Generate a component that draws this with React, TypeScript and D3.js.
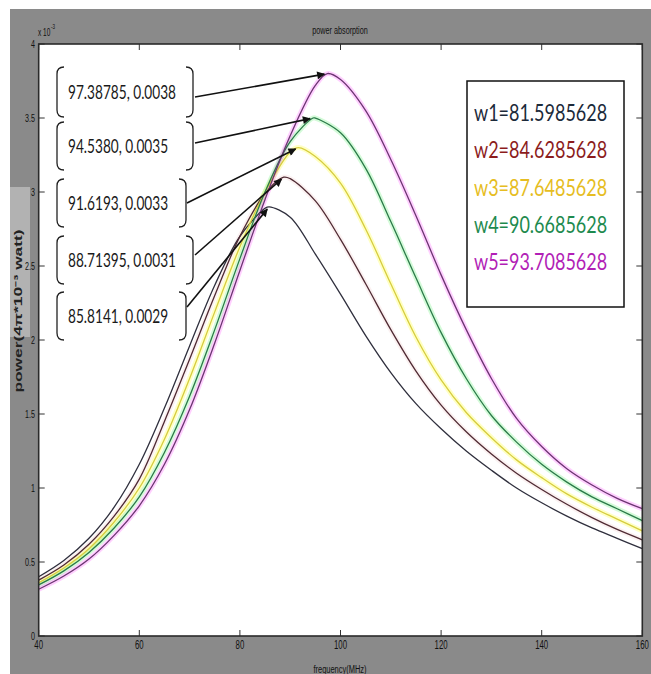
import React from "react";
import * as d3 from "d3";

// Frequency samples (MHz)
const frequencies = [
  40, 45, 50, 55, 60, 65, 70, 75, 80, 85, 90, 95, 100, 105, 110, 115, 120, 125,
  130, 135, 140, 145, 150, 155, 160,
];

// Absorbed power for each drive frequency, in units of 1e-3
const w1Power = [
  0.4, 0.51, 0.66, 0.87, 1.16, 1.54, 1.96, 2.37, 2.7, 2.89, 2.83, 2.58, 2.31,
  2.03, 1.78, 1.57, 1.4, 1.25, 1.12, 1.0, 0.9, 0.81, 0.73, 0.66, 0.59,
];
const w2Power = [
  0.378, 0.48, 0.62, 0.81, 1.06, 1.45, 1.87, 2.3, 2.7, 2.99, 3.09, 2.94, 2.68,
  2.38, 2.07, 1.79, 1.56, 1.38, 1.23, 1.1, 0.99, 0.89, 0.8, 0.72, 0.65,
];
const w3Power = [
  0.36, 0.46, 0.59, 0.77, 1.0, 1.33, 1.74, 2.19, 2.63, 3.0, 3.27, 3.24, 3.06,
  2.75, 2.38, 2.02, 1.73, 1.51, 1.34, 1.19, 1.07, 0.96, 0.87, 0.79, 0.71,
];
const w4Power = [
  0.345, 0.44, 0.565, 0.73, 0.94, 1.24, 1.62, 2.07, 2.55, 3.0, 3.34, 3.499,
  3.4, 3.16, 2.8, 2.42, 2.05, 1.74, 1.49, 1.31, 1.16, 1.04, 0.94, 0.86, 0.78,
];
const w5Power = [
  0.316, 0.405, 0.52, 0.68, 0.88, 1.16, 1.53, 1.98, 2.47, 2.95, 3.38, 3.72,
  3.76, 3.55, 3.22, 2.84, 2.44, 2.07, 1.74, 1.47, 1.28, 1.13, 1.02, 0.93, 0.86,
];

const seriesNames = [
  "w1=81.5985628",
  "w2=84.6285628",
  "w3=87.6485628",
  "w4=90.6685628",
  "w5=93.7085628",
];

// Resonance peaks (MHz, W)
const peakFreq = [85.8141, 88.71395, 91.6193, 94.538, 97.38785];
const peakPower = [0.0029, 0.0031, 0.0033, 0.0035, 0.0038];
const peakLabels = [
  "85.8141, 0.0029",
  "88.71395, 0.0031",
  "91.6193, 0.0033",
  "94.5380, 0.0035",
  "97.38785, 0.0038",
];

const xTicks = [40, 60, 80, 100, 120, 140, 160];
const yTicks = [0, 0.5, 1, 1.5, 2, 2.5, 3, 3.5, 4];
const yTickLabels = ["0", "0.5", "1", "1.5", "2", "2.5", "3", "3.5", "4"];

const axisExponent = 1e-3;

const W = 651;
const H = 674;
const plot = { left: 38.7, right: 642.3, top: 44, bottom: 636 };

const x = d3.scaleLinear().domain([40, 160]).range([plot.left, plot.right]);
const y = d3.scaleLinear().domain([0, 4]).range([plot.bottom, plot.top]);

const seriesValues = [w1Power, w2Power, w3Power, w4Power, w5Power];
const coreColors = ["#2f2f3d", "#4f2a33", "#d6cd3e", "#2b7a49", "#6c3472"];
const haloColors = [null, "#e08a8a", "#ffff55", "#55ee66", "#ff55ff"];
const haloOpacity = [0, 0.12, 0.35, 0.25, 0.28];
const legendColors = ["#1c2a3a", "#8c1c1c", "#e6bd22", "#1e8a4e", "#b21fb6"];

// annotation boxes, from the lowest peak (w1) upward: [left, right, top, bottom]
const boxes = [
  [57, 186, 292, 340],
  [57, 193, 236, 284],
  [57, 186, 179, 227],
  [57, 193, 122, 170],
  [57, 193, 67, 117],
];
const arrowStarts = [
  [187, 307],
  [195, 255],
  [187, 203],
  [195, 143],
  [195, 97],
];

function points(values: number[], k: number): [number, number][] {
  const pts: [number, number][] = frequencies.map((f, i) => [f, values[i]]);
  pts.push([peakFreq[k], peakPower[k] / axisExponent]);
  pts.sort((a, b) => a[0] - b[0]);
  return pts;
}

function bracketPath(l: number, r: number, t: number, b: number, rad = 7) {
  return (
    `M${l + rad},${t} Q${l},${t} ${l},${t + rad} L${l},${b - rad} Q${l},${b} ${l + rad},${b} ` +
    `M${r - rad},${t} Q${r},${t} ${r},${t + rad} L${r},${b - rad} Q${r},${b} ${r - rad},${b}`
  );
}

function SText(props: {
  x: number;
  y: number;
  sx: number;
  size: number;
  anchor?: string;
  fill?: string;
  family?: string;
  weight?: string | number;
  children: React.ReactNode;
}) {
  const { x: tx, y: ty, sx, size, anchor = "start", fill = "#111", family, weight } = props;
  return (
    <text
      transform={`translate(${tx},${ty}) scale(${sx},1)`}
      fontSize={size}
      textAnchor={anchor}
      fill={fill}
      fontFamily={family}
      fontWeight={weight}
    >
      {props.children}
    </text>
  );
}

export default function App() {
  const line = d3
    .line<[number, number]>()
    .x((d) => x(d[0]))
    .y((d) => y(d[1]))
    .curve(d3.curveCatmullRom.alpha(0.5));

  const annFont = "Lato, 'Open Sans', sans-serif";

  return (
    <svg
      width={W}
      height={H}
      style={{ position: "absolute", left: 0, top: 0 }}
      fontFamily="'Liberation Sans', Arial, sans-serif"
    >
      <defs>
        <marker
          id="arrowhead"
          viewBox="0 0 10 10"
          refX="9"
          refY="5"
          markerWidth="11"
          markerHeight="8"
          markerUnits="userSpaceOnUse"
          orient="auto"
        >
          <path d="M0,0 L10,5 L0,10 z" fill="#111" />
        </marker>
      </defs>
      <rect width={W} height={H} fill="#ffffff" />
      <rect x={10} y={9} width={W - 10} height={H - 9} fill="#8a8a8a" />
      <rect x={10} y={187} width={20} height={150} fill="#b2b2b2" />

      {/* axes area */}
      <rect
        x={plot.left}
        y={plot.top}
        width={plot.right - plot.left}
        height={plot.bottom - plot.top}
        fill="#ffffff"
      />

      {/* curves */}
      {seriesValues.map((vals, k) =>
        haloColors[k] ? (
          <path
            key={"h" + k}
            d={line(points(vals, k)) || ""}
            fill="none"
            stroke={haloColors[k] as string}
            strokeOpacity={haloOpacity[k]}
            strokeWidth={5}
          />
        ) : null
      )}
      {seriesValues.map((vals, k) => (
        <path
          key={"c" + k}
          d={line(points(vals, k)) || ""}
          fill="none"
          stroke={coreColors[k]}
          strokeWidth={1.3}
        />
      ))}

      {/* ticks */}
      {xTicks.map((t) => (
        <g key={"xt" + t} stroke="#333" strokeWidth={1}>
          <line x1={x(t)} x2={x(t)} y1={plot.bottom} y2={plot.bottom - 6} />
          <line x1={x(t)} x2={x(t)} y1={plot.top} y2={plot.top + 6} />
        </g>
      ))}
      {yTicks.map((t) => (
        <g key={"yt" + t} stroke="#333" strokeWidth={1}>
          <line x1={plot.left} x2={plot.left + 6} y1={y(t)} y2={y(t)} />
          <line x1={plot.right} x2={plot.right - 6} y1={y(t)} y2={y(t)} />
        </g>
      ))}
      <rect
        x={plot.left}
        y={plot.top}
        width={plot.right - plot.left}
        height={plot.bottom - plot.top}
        fill="none"
        stroke="#2a2a2a"
        strokeWidth={1.6}
      />

      {/* tick labels */}
      {xTicks.map((t) => (
        <SText key={"xl" + t} x={x(t)} y={649} sx={0.6} size={13} anchor="middle">
          {t}
        </SText>
      ))}
      {yTicks.map((t, i) => (
        <SText key={"yl" + t} x={35} y={y(t) + 4} sx={0.65} size={11} anchor="end">
          {yTickLabels[i]}
        </SText>
      ))}
      <SText x={38} y={36} sx={0.65} size={10}>
        x 10
      </SText>
      <SText x={51} y={29} sx={0.65} size={7}>
        -3
      </SText>

      {/* titles */}
      <SText x={340} y={34} sx={0.66} size={11} anchor="middle">
        power absorption
      </SText>
      <SText x={340} y={673} sx={0.68} size={11} anchor="middle">
        frequency(MHz)
      </SText>
      <text
        transform="translate(22,311) rotate(-90)"
        fontSize={10.5}
        fontWeight="bold"
        textAnchor="middle"
        textLength={163}
        lengthAdjust="spacingAndGlyphs"
        fill="#222"
      >
        power(4π*10⁻³ watt)
      </text>

      {/* peak annotations */}
      {boxes.map((b, k) => {
        const [l, r, t, bt] = b;
        const px = x(peakFreq[k]);
        const py = y(peakPower[k] / axisExponent);
        const [sx0, sy0] = arrowStarts[k];
        const dx = px - sx0;
        const dy = py - sy0;
        const len = Math.hypot(dx, dy);
        const ex = px - (dx / len) * 3;
        const ey = py - (dy / len) * 3;
        return (
          <g key={"ann" + k}>
            <path d={bracketPath(l, r, t, bt)} fill="none" stroke="#222" strokeWidth={1.3} />
            <SText
              x={l + 11}
              y={(t + bt) / 2 + 7}
              sx={0.7}
              size={19.5}
              family={annFont}
              fill="#1a1a1a"
            >
              {peakLabels[k]}
            </SText>
            <line
              x1={sx0}
              y1={sy0}
              x2={ex}
              y2={ey}
              stroke="#111"
              strokeWidth={1.6}
              markerEnd="url(#arrowhead)"
            />
          </g>
        );
      })}

      {/* legend */}
      <rect x={467} y={81} width={157} height={226} fill="#ffffff" stroke="#111" strokeWidth={1.5} />
      {seriesNames.map((name, k) => (
        <SText
          key={"lg" + k}
          x={474}
          y={121 + k * 37.3}
          sx={0.8}
          size={22.5}
          family={annFont}
          fill={legendColors[k]}
        >
          {name}
        </SText>
      ))}
    </svg>
  );
}
